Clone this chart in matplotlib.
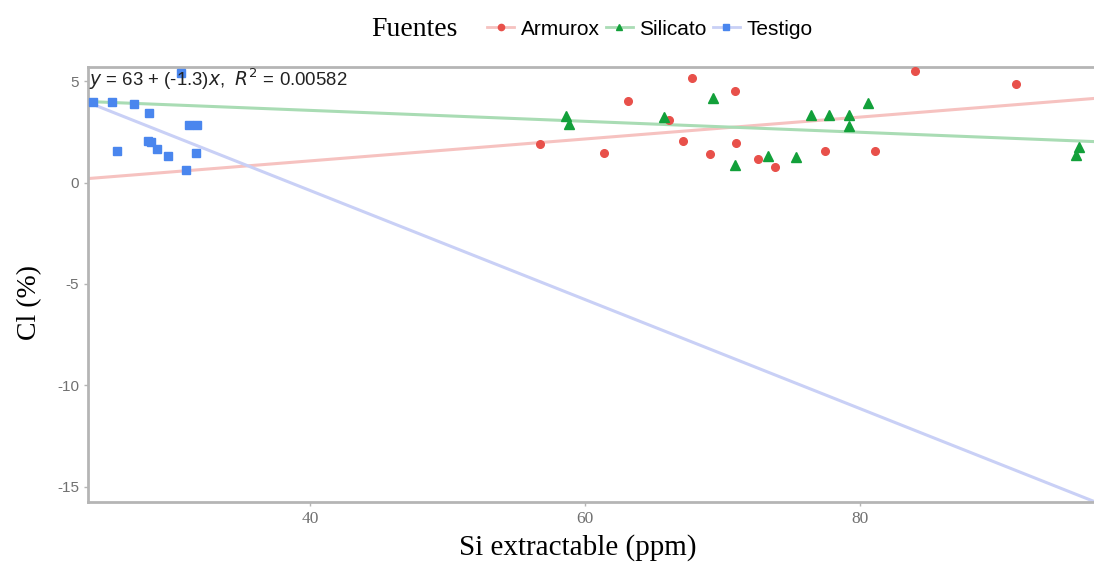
import matplotlib
matplotlib.use("Agg")
import matplotlib.pyplot as plt
import numpy as np
from matplotlib.lines import Line2D

plt.rcParams["axes.unicode_minus"] = False

# Si extractable (ppm) vs Cl (%) for each source
armurox_x = [56.7, 61.4, 63.1, 66.1, 67.8, 67.1, 69.05, 70.9, 71.0, 72.6, 73.8,
             77.45, 81.1, 84.0, 91.3]
armurox_y = [1.91, 1.47, 4.01, 3.09, 5.15, 2.07, 1.40, 4.51, 1.96, 1.17, 0.76,
             1.58, 1.56, 5.51, 4.87]

silicato_x = [58.6, 58.8, 65.7, 69.3, 70.9, 73.3, 75.3, 76.4, 77.75, 79.2, 79.2,
              80.6, 95.9, 95.7]
silicato_y = [3.26, 2.90, 3.22, 4.16, 0.87, 1.33, 1.25, 3.31, 3.31, 3.31, 2.81,
              3.93, 1.74, 1.38]

testigo_x = [24.2, 25.6, 27.2, 28.3, 31.2, 31.8, 28.2, 28.4, 28.85, 25.95, 29.7,
             31.7, 31.0, 30.6]
testigo_y = [3.96, 3.96, 3.88, 3.42, 2.85, 2.85, 2.07, 1.99, 1.66, 1.55, 1.30,
             1.45, 0.64, 5.38]

# fitted lines per source (intercept, slope)
fit_intercept = [-1.09, 4.64, 10.37]
fit_slope = [0.054, -0.027, -0.269]

sources = ["Armurox", "Silicato", "Testigo"]
colors = ["#e8504a", "#12a03a", "#4a86ee"]
line_colors = ["#f6c2c0", "#a9dcb4", "#c9d0f6"]
markers = ["o", "^", "s"]

x_ticks = [40, 60, 80]
y_ticks = [-15, -10, -5, 0, 5]
equation = r"$y$ = 63 + (-1.3)$x$,  $R^2$ = 0.00582"

fig = plt.figure(figsize=(10.94, 5.72), dpi=100)
ax = fig.add_axes([0.0804, 0.1224, 0.9196, 0.7605])
xlim = (23.85, 97.0)
ax.set_xlim(*xlim)
ax.set_ylim(-15.75, 5.7)

xs = np.array(xlim)
data = [(armurox_x, armurox_y), (silicato_x, silicato_y), (testigo_x, testigo_y)]
for b0, b1, lc in zip(fit_intercept, fit_slope, line_colors):
    ax.plot(xs, b0 + b1 * xs, color=lc, lw=2.2, zorder=1)
for (px, py), c, m in zip(data, colors, markers):
    ms = 6.5 if m == "^" else 5.5
    ax.plot(px, py, ls="none", marker=m, color=c, ms=ms, zorder=3,
            clip_on=False)

ax.text(23.95, 5.1, equation, fontsize=13.4, family="Liberation Sans",
        color="#222222", va="center", ha="left", zorder=4)

for side in ["left", "bottom", "top"]:
    ax.spines[side].set_color("#b5b5b5")
    ax.spines[side].set_linewidth(2)
ax.spines["right"].set_visible(False)

ax.set_xticks(x_ticks)
ax.set_yticks(y_ticks)
ax.tick_params(axis="both", colors="#b5b5b5", length=3, width=1,
               labelcolor="#707070")
ax.tick_params(axis="y", labelsize=11)
ax.tick_params(axis="x", labelsize=12.5)
for lbl in ax.get_xticklabels():
    lbl.set_family("Liberation Serif")
for lbl in ax.get_yticklabels():
    lbl.set_family("Liberation Sans")

fig.text(0.027, 0.472, "Cl (%)", rotation=90, fontsize=20,
         family="Liberation Serif", ha="center", va="center")
fig.text(0.528, 0.042, "Si extractable (ppm)", fontsize=21,
         family="Liberation Serif", ha="center", va="center")

# legend across the top
fig.text(0.339, 0.949, "Fuentes", fontsize=20, family="Liberation Serif",
         ha="left", va="center")
handles = [Line2D([0], [0], color=lc, lw=2, marker=m, markerfacecolor=c,
                  markeredgecolor=c, ms=4.5)
           for c, lc, m in zip(colors, line_colors, markers)]
leg = fig.legend(handles, sources, loc="center", ncol=3,
                 bbox_to_anchor=(0.594, 0.949), frameon=False,
                 prop={"family": "Liberation Sans", "size": 15},
                 handlelength=1.3, handletextpad=0.3, columnspacing=0.3)

fig.savefig("out.png", dpi=100)
